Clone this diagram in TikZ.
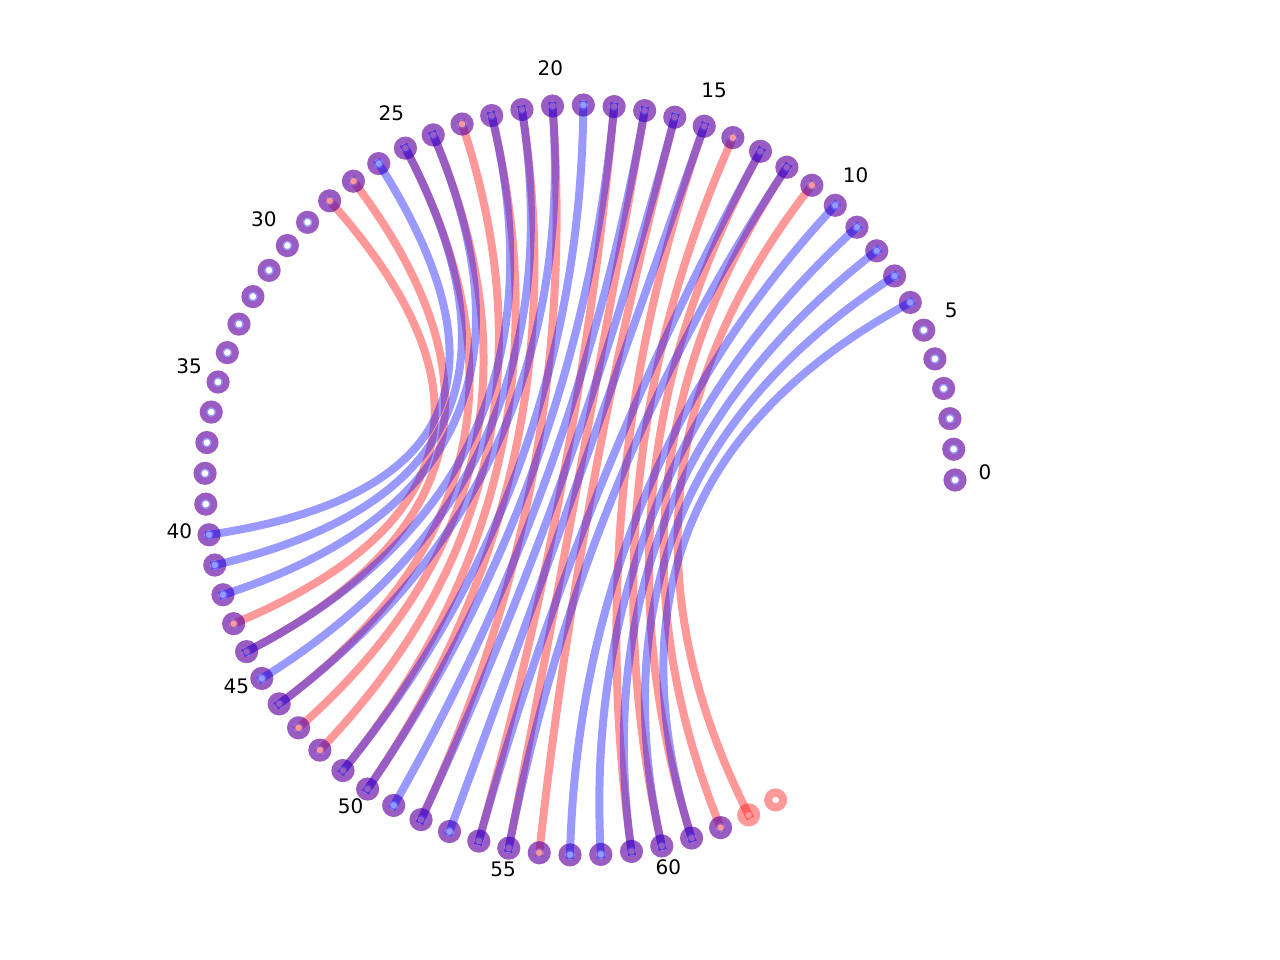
\documentclass[tikz,border=0pt]{standalone}
\usepackage{fontspec}
\setmainfont{DejaVu Sans}
\usetikzlibrary{calc}
\newcommand\mychord[3]{\draw[#1] (p#2) .. controls ($(p#2)!2/3!(c)$) and ($(p#3)!2/3!(c)$) .. (p#3);}
\begin{document}
\begin{tikzpicture}[x=1pt,y=-1pt,
  redchord/.style={draw=red, opacity=0.4, line width=8pt, line cap=rect},
  bluechord/.style={draw=blue, opacity=0.4, line width=8pt, line cap=rect},
  bluering/.style={draw=blue, opacity=0.4, line width=8.2pt},
  redring/.style={draw=red, opacity=0.4, line width=6.7pt},
  redfullring/.style={draw=red, opacity=0.4, line width=8.2pt},
  lbl/.style={font=\fontsize{20}{24}\selectfont, inner sep=0pt}]
\useasboundingbox (0,0) rectangle (1280,960);
\coordinate (c) at (580,480);
\foreach \k in {0,...,64} {
  \coordinate (p\k) at ({580+375*cos(4.71*\k)}, {480-375*sin(4.71*\k)});
}
% red chords
\foreach \a/\b in {28/43,27/44,25/46,24/47,23/48,22/49,21/50,20/52,18/54,17/55,16/56,15/59,14/60,13/61,12/62,11/63} {
  \mychord{redchord}{\a}{\b}
}
% red rings
\foreach \k in {0,...,62} { \draw[redring] (p\k) circle (8.15); }
\foreach \k in {63,64} { \draw[redfullring] (p\k) circle (7.4); }
% blue chords
\foreach \a/\b in {26/40,25/41,24/42,22/44,21/45,20/46,19/49,18/50,17/51,16/52,15/53,13/54,12/55,10/57,9/58,8/59,7/60,6/61} {
  \mychord{bluechord}{\a}{\b}
}
% blue rings
\foreach \k in {0,...,62} { \draw[bluering] (p\k) circle (7.4); }
% labels
\foreach \k in {0,5,...,60} {
  \node[lbl] (l\k) at ({580+405*cos(4.71*\k)}, {480-405*sin(4.71*\k)-8}) {\k};
}
\end{tikzpicture}
\end{document}
